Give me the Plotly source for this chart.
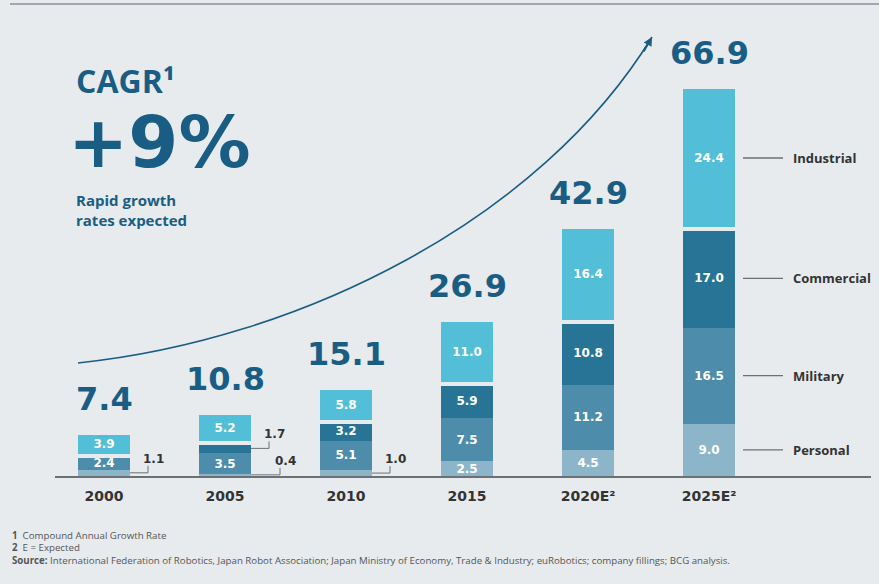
import plotly.graph_objects as go

# ---------------- data ----------------
years = ["2000", "2005", "2010", "2015", "2020E", "2025E"]
tick_labels = ["2000", "2005", "2010", "2015", "2020E²", "2025E²"]
segment_names = ["Personal", "Military", "Commercial", "Industrial"]
personal = [1.1, 0.4, 1.0, 2.5, 4.5, 9.0]
military = [2.4, 3.5, 5.1, 7.5, 11.2, 16.5]
commercial = [0.0, 1.7, 3.2, 5.9, 10.8, 17.0]
industrial = [3.9, 5.2, 5.8, 11.0, 16.4, 24.4]
totals = [7.4, 10.8, 15.1, 26.9, 42.9, 66.9]

# ---------------- style ----------------
BG = "#E7EBEE"
DARK = "#1A5D84"
TXT = "#333333"
colors = {"Personal": "#8CB5C9", "Military": "#4D8CAB",
          "Commercial": "#287497", "Industrial": "#52BED8"}
NUM = "DejaVu Sans"
WORD = "Open Sans"

W, H = 879, 584
ML, MR, MT, MB = 55, 8, 40, 108
PW, PH = W - ML - MR, H - MT - MB
YMAX = 75.0
SLOT = 121.0            # px per category
BARW = 52 / SLOT
GAP = 4                 # px gap under industrial segment


def px(x):
    return (x - ML) / PW


def py(y):
    return (H - MB - y) / PH


idx = list(range(len(years)))
series = [personal, military, commercial, industrial]

fig = go.Figure()
for name, vals in zip(segment_names, series):
    is_ind = name == "Industrial"
    fig.add_trace(go.Bar(
        x=idx, y=vals, name=name,
        width=BARW + (GAP / SLOT if is_ind else 0),
        marker=dict(color=colors[name],
                    line=dict(color=BG if is_ind else colors[name], width=GAP if is_ind else 0)),
        text=[f"{v:.1f}" if v >= 2 else "" for v in vals],
        textposition="inside", insidetextanchor="middle", textangle=0,
        textfont=dict(family=NUM, size=12, color="white", weight="bold"),
        hoverinfo="skip", showlegend=False,
    ))

annotations = []
shapes = []

# totals above bars
for i, t in zip(idx, totals):
    annotations.append(dict(x=i, y=t, xref="x", yref="y", text=f"{t:.1f}", showarrow=False,
                            yanchor="bottom", yshift=13,
                            font=dict(family=NUM, size=32, color=DARK, weight="bold")))

# small-segment labels with connectors
half = 26
for i in idx:
    base = 0.0
    mids = []
    for name, vals in zip(segment_names, series):
        v = vals[i]
        mids.append((name, v, base + v / 2))
        base += v
    k = 0
    for name, v, mid in reversed(mids):
        if 0 < v < 2:
            ext = 18 + 11 * k
            shapes.append(dict(type="line", xref="x", yref="y", xsizemode="pixel", xanchor=i,
                               x0=half, x1=half + ext, y0=mid, y1=mid,
                               line=dict(color="#6B7075", width=1)))
            shapes.append(dict(type="line", xref="x", yref="y", xsizemode="pixel", xanchor=i,
                               ysizemode="pixel", yanchor=mid,
                               x0=half + ext, x1=half + ext, y0=0, y1=7,
                               line=dict(color="#6B7075", width=1)))
            annotations.append(dict(x=i, y=mid, xref="x", yref="y", text=f"{v:.1f}",
                                    showarrow=False, xanchor="center", xshift=half + ext + 5,
                                    yshift=14,
                                    font=dict(family=NUM, size=12, color=TXT, weight="bold")))
            k += 1

# legend labels next to last bar
last = idx[-1]
base = 0.0
for name, vals in zip(segment_names, series):
    mid = base + vals[last] / 2
    base += vals[last]
    shapes.append(dict(type="line", xref="x", yref="y", xsizemode="pixel", xanchor=last,
                       x0=34, x1=74, y0=mid, y1=mid, line=dict(color="#6B7075", width=1.3)))
    annotations.append(dict(x=last, y=mid, xref="x", yref="y", text=name, showarrow=False,
                            xanchor="left", xshift=82,
                            font=dict(family=WORD, size=13, color=TXT, weight="bold")))

# CAGR block
annotations += [
    dict(x=px(74), y=py(80), xref="paper", yref="paper", text="CAGR¹", showarrow=False,
         xanchor="left", yanchor="middle", font=dict(family=WORD, size=32, color=DARK, weight="bold")),
    dict(x=px(66), y=py(142), xref="paper", yref="paper", text="+9%", showarrow=False,
         xanchor="left", yanchor="middle", font=dict(family=NUM, size=72, color=DARK, weight="bold")),
    dict(x=px(74), y=py(210), xref="paper", yref="paper", text="Rapid growth<br>rates expected",
         showarrow=False, xanchor="left", yanchor="middle", align="left",
         font=dict(family=WORD, size=15, color=DARK, weight="bold")),
]

# footnotes
foot = [
    ("<b>1</b>  Compound Annual Growth Rate", 535),
    ("<b>2</b>  E = Expected", 547),
    ("<b>Source:</b> International Federation of Robotics, Japan Robot Association; Japan Ministry of "
     "Economy, Trade &amp; Industry; euRobotics; company fillings; BCG analysis.", 560),
]
for t, y in foot:
    annotations.append(dict(x=px(10), y=py(y), xref="paper", yref="paper", text=t, showarrow=False,
                            xanchor="left", yanchor="middle",
                            font=dict(family=WORD, size=9.7, color="#555555")))

# growth arrow
p0, c1, c2, p3 = (78, 363), (300, 340), (540, 220), (652, 37)
path = "M {} {} C {} {}, {} {}, {} {}".format(px(p0[0]), py(p0[1]), px(c1[0]), py(c1[1]),
                                             px(c2[0]), py(c2[1]), px(p3[0]), py(p3[1]))
shapes.append(dict(type="path", xref="paper", yref="paper", path=path,
                   line=dict(color=DARK, width=1.6)))
annotations.append(dict(x=px(p3[0]), y=py(p3[1]), xref="paper", yref="paper", text="",
                        showarrow=True, ax=-9, ay=16, arrowhead=2, arrowsize=1.1,
                        arrowwidth=1.6, arrowcolor=DARK, standoff=0))

# top rule
shapes.append(dict(type="line", xref="paper", yref="paper", x0=px(10), x1=px(879),
                   y0=py(4), y1=py(4), line=dict(color="#8A9096", width=1.5)))

fig.update_layout(
    width=W, height=H, autosize=False,
    margin=dict(l=ML, r=MR, t=MT, b=MB),
    paper_bgcolor=BG, plot_bgcolor=BG,
    barmode="stack",
    uniformtext=dict(minsize=12, mode="show"),
    xaxis=dict(range=[-49 / SLOT, -49 / SLOT + PW / SLOT], tickvals=idx, ticktext=tick_labels,
               showgrid=False, zeroline=False, showline=True, linecolor="#6B7075", linewidth=1.5,
               ticks="outside", ticklen=6, tickcolor="rgba(0,0,0,0)",
               tickfont=dict(family=NUM, size=14, color=TXT, weight="bold"), fixedrange=True),
    yaxis=dict(range=[0, YMAX], visible=False, fixedrange=True),
    annotations=annotations, shapes=shapes,
)

fig.write_html("out.html", config={"displayModeBar": False},
               post_script="document.body.style.margin='0';")
